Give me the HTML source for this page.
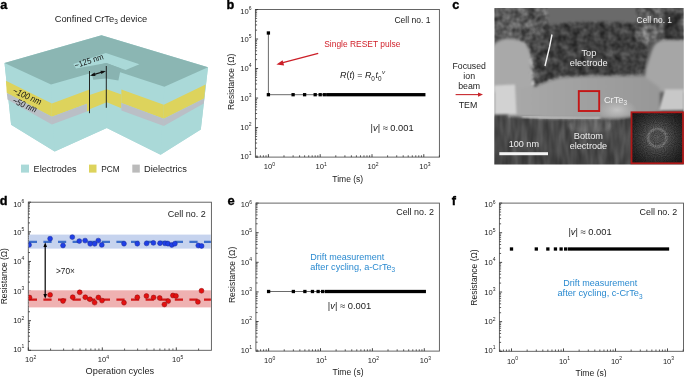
<!DOCTYPE html><html><head><meta charset="utf-8"><style>html,body{margin:0;padding:0;background:#fff;overflow:hidden}svg{display:block}text{font-family:"Liberation Sans",sans-serif}</style></head><body>
<svg width="685" height="377" viewBox="0 0 685 377">
<rect width="685" height="377" fill="#fff"/>
<text x="0.2" y="8.9" font-size="12.7" text-anchor="start" fill="#000" font-weight="bold" font-style="normal" stroke="#000" stroke-width="0.35">a</text>
<text x="226.5" y="8.9" font-size="12.7" text-anchor="start" fill="#000" font-weight="bold" font-style="normal" stroke="#000" stroke-width="0.35">b</text>
<text x="452.2" y="9.0" font-size="12.7" text-anchor="start" fill="#000" font-weight="bold" font-style="normal" stroke="#000" stroke-width="0.35">c</text>
<text x="-0.3" y="204.8" font-size="12.7" text-anchor="start" fill="#000" font-weight="bold" font-style="normal" stroke="#000" stroke-width="0.35">d</text>
<text x="227.4" y="205.0" font-size="12.9" text-anchor="start" fill="#000" font-weight="bold" font-style="normal" stroke="#000" stroke-width="0.35">e</text>
<text x="451.7" y="205.0" font-size="12.7" text-anchor="start" fill="#000" font-weight="bold" font-style="normal" stroke="#000" stroke-width="0.35">f</text>
<text x="54.7" y="22.3" font-size="9.3" text-anchor="start" fill="#222" font-weight="normal" font-style="normal" >Confined CrTe<tspan font-size="6.5" dy="2">3</tspan><tspan dy="-2"> device</tspan></text>
<polygon points="4.5,63.0 101.5,35.2 208.0,67.2 200.8,129.5 160.6,154.8 106.8,127.9 54.7,151.5 11.1,124.7" fill="#aad9d8" />
<polygon points="4.5,63.0 51.0,84.4 54.7,151.5 11.1,124.7" fill="#aad9d8" />
<polygon points="51.0,84.4 106.8,67.8 106.8,127.9 54.7,151.5" fill="#aad9d8" />
<polygon points="106.8,67.8 164.4,86.8 160.6,154.8 106.8,127.9" fill="#aad9d8" />
<polygon points="164.4,86.8 208.0,67.2 200.8,129.5 160.6,154.8" fill="#aad9d8" />
<polygon points="5.9,80.8 51.9,103.5 51.9,116.8 6.8,92.9" fill="#ddd35c" />
<polygon points="6.8,92.9 51.9,116.8 51.9,124.5 7.5,99.4" fill="#babfc6" />
<polygon points="51.9,103.5 89.5,89.6 89.5,110.6 86.9,111.5 86.9,103.8 51.9,116.8" fill="#ddd35c" />
<polygon points="51.9,116.8 86.9,103.8 86.9,111.5 51.9,124.5" fill="#babfc6" />
<polygon points="89.5,95.1 106.8,89.2 121.4,94.6 121.4,108.3 106.8,102.2 89.5,109.2" fill="#ddd35c" />
<polygon points="121.4,89.4 163.8,104.8 163.8,118.8 121.4,103.1" fill="#ddd35c" />
<polygon points="121.4,103.1 163.8,118.8 163.8,126.1 121.4,110.4" fill="#babfc6" />
<polygon points="163.8,104.8 205.5,84.6 204.2,98.4 163.8,118.8" fill="#ddd35c" />
<polygon points="163.8,118.8 204.2,98.4 203.7,103.5 163.8,126.1" fill="#babfc6" />
<polygon points="4.5,63.0 101.5,35.2 208.0,67.2 164.4,86.8 121.0,72.4 106.8,67.8 89.5,73.4 51.0,84.4" fill="#8bb6b3" />
<polygon points="73.3,63.9 105.8,53.0 139.4,64.3 125.6,70.0 106.3,62.9 76.0,68.6" fill="#aad9d8" />
<polygon points="89.8,67.2 106.3,62.9 120.8,68.6 118.4,80.4 106.3,78.5 93.3,79.8" fill="#89b3b1" />
<line x1="89.5" y1="71" x2="89.5" y2="113.2" stroke="#111" stroke-width="0.9"/>
<line x1="106.3" y1="66" x2="106.3" y2="107.8" stroke="#111" stroke-width="0.9"/>
<line x1="92" y1="75.1" x2="104" y2="71.5" stroke="#111" stroke-width="1.2"/>
<polygon points="89.9,75.8 94.6,72.6 95.5,75.9" fill="#111"/>
<polygon points="106,71.1 100.4,70.8 101.4,74.1" fill="#111"/>
<text x="75.6" y="68.4" font-size="8.4" text-anchor="start" fill="#111" font-weight="normal" font-style="normal" textLength="30" lengthAdjust="spacingAndGlyphs" transform="rotate(-18.5 75.6 68.4)">~125 nm</text>
<text x="12.0" y="93.0" font-size="9" text-anchor="start" fill="#111" font-weight="normal" font-style="italic" textLength="30.5" lengthAdjust="spacingAndGlyphs" transform="rotate(23 12 93)">~100 nm</text>
<text x="11.8" y="102.8" font-size="9" text-anchor="start" fill="#111" font-weight="normal" font-style="italic" textLength="25.5" lengthAdjust="spacingAndGlyphs" transform="rotate(23 11.8 102.8)">~50 nm</text>
<rect x="21" y="164.6" width="8" height="8" fill="#aad9d8"/>
<text x="33.6" y="172.4" font-size="9.2" text-anchor="start" fill="#222" font-weight="normal" font-style="normal" textLength="42.9" lengthAdjust="spacingAndGlyphs" >Electrodes</text>
<rect x="89" y="164.6" width="7.5" height="8" fill="#ddd35c"/>
<text x="101.3" y="172.4" font-size="9.2" text-anchor="start" fill="#222" font-weight="normal" font-style="normal" textLength="18.4" lengthAdjust="spacingAndGlyphs" >PCM</text>
<rect x="132.3" y="164.6" width="7.5" height="8" fill="#bbbbbb"/>
<text x="144" y="172.4" font-size="9.2" text-anchor="start" fill="#222" font-weight="normal" font-style="normal" textLength="42.9" lengthAdjust="spacingAndGlyphs" >Dielectrics</text>
<rect x="255.4" y="9.5" width="183.99999999999997" height="147.6" fill="none" stroke="#555" stroke-width="0.9"/>
<line x1="255.4" y1="9.50" x2="258.1" y2="9.50" stroke="#333" stroke-width="0.9"/>
<line x1="255.4" y1="30.13" x2="257.1" y2="30.13" stroke="#333" stroke-width="0.8"/>
<line x1="255.4" y1="24.94" x2="257.1" y2="24.94" stroke="#333" stroke-width="0.8"/>
<line x1="255.4" y1="21.25" x2="257.1" y2="21.25" stroke="#333" stroke-width="0.8"/>
<line x1="255.4" y1="18.39" x2="257.1" y2="18.39" stroke="#333" stroke-width="0.8"/>
<line x1="255.4" y1="16.05" x2="257.1" y2="16.05" stroke="#333" stroke-width="0.8"/>
<line x1="255.4" y1="14.07" x2="257.1" y2="14.07" stroke="#333" stroke-width="0.8"/>
<line x1="255.4" y1="12.36" x2="257.1" y2="12.36" stroke="#333" stroke-width="0.8"/>
<line x1="255.4" y1="10.85" x2="257.1" y2="10.85" stroke="#333" stroke-width="0.8"/>
<line x1="255.4" y1="39.02" x2="258.1" y2="39.02" stroke="#333" stroke-width="0.9"/>
<line x1="255.4" y1="59.65" x2="257.1" y2="59.65" stroke="#333" stroke-width="0.8"/>
<line x1="255.4" y1="54.46" x2="257.1" y2="54.46" stroke="#333" stroke-width="0.8"/>
<line x1="255.4" y1="50.77" x2="257.1" y2="50.77" stroke="#333" stroke-width="0.8"/>
<line x1="255.4" y1="47.91" x2="257.1" y2="47.91" stroke="#333" stroke-width="0.8"/>
<line x1="255.4" y1="45.57" x2="257.1" y2="45.57" stroke="#333" stroke-width="0.8"/>
<line x1="255.4" y1="43.59" x2="257.1" y2="43.59" stroke="#333" stroke-width="0.8"/>
<line x1="255.4" y1="41.88" x2="257.1" y2="41.88" stroke="#333" stroke-width="0.8"/>
<line x1="255.4" y1="40.37" x2="257.1" y2="40.37" stroke="#333" stroke-width="0.8"/>
<line x1="255.4" y1="68.54" x2="258.1" y2="68.54" stroke="#333" stroke-width="0.9"/>
<line x1="255.4" y1="89.17" x2="257.1" y2="89.17" stroke="#333" stroke-width="0.8"/>
<line x1="255.4" y1="83.98" x2="257.1" y2="83.98" stroke="#333" stroke-width="0.8"/>
<line x1="255.4" y1="80.29" x2="257.1" y2="80.29" stroke="#333" stroke-width="0.8"/>
<line x1="255.4" y1="77.43" x2="257.1" y2="77.43" stroke="#333" stroke-width="0.8"/>
<line x1="255.4" y1="75.09" x2="257.1" y2="75.09" stroke="#333" stroke-width="0.8"/>
<line x1="255.4" y1="73.11" x2="257.1" y2="73.11" stroke="#333" stroke-width="0.8"/>
<line x1="255.4" y1="71.40" x2="257.1" y2="71.40" stroke="#333" stroke-width="0.8"/>
<line x1="255.4" y1="69.89" x2="257.1" y2="69.89" stroke="#333" stroke-width="0.8"/>
<line x1="255.4" y1="98.06" x2="258.1" y2="98.06" stroke="#333" stroke-width="0.9"/>
<line x1="255.4" y1="118.69" x2="257.1" y2="118.69" stroke="#333" stroke-width="0.8"/>
<line x1="255.4" y1="113.50" x2="257.1" y2="113.50" stroke="#333" stroke-width="0.8"/>
<line x1="255.4" y1="109.81" x2="257.1" y2="109.81" stroke="#333" stroke-width="0.8"/>
<line x1="255.4" y1="106.95" x2="257.1" y2="106.95" stroke="#333" stroke-width="0.8"/>
<line x1="255.4" y1="104.61" x2="257.1" y2="104.61" stroke="#333" stroke-width="0.8"/>
<line x1="255.4" y1="102.63" x2="257.1" y2="102.63" stroke="#333" stroke-width="0.8"/>
<line x1="255.4" y1="100.92" x2="257.1" y2="100.92" stroke="#333" stroke-width="0.8"/>
<line x1="255.4" y1="99.41" x2="257.1" y2="99.41" stroke="#333" stroke-width="0.8"/>
<line x1="255.4" y1="127.58" x2="258.1" y2="127.58" stroke="#333" stroke-width="0.9"/>
<line x1="255.4" y1="148.21" x2="257.1" y2="148.21" stroke="#333" stroke-width="0.8"/>
<line x1="255.4" y1="143.02" x2="257.1" y2="143.02" stroke="#333" stroke-width="0.8"/>
<line x1="255.4" y1="139.33" x2="257.1" y2="139.33" stroke="#333" stroke-width="0.8"/>
<line x1="255.4" y1="136.47" x2="257.1" y2="136.47" stroke="#333" stroke-width="0.8"/>
<line x1="255.4" y1="134.13" x2="257.1" y2="134.13" stroke="#333" stroke-width="0.8"/>
<line x1="255.4" y1="132.15" x2="257.1" y2="132.15" stroke="#333" stroke-width="0.8"/>
<line x1="255.4" y1="130.44" x2="257.1" y2="130.44" stroke="#333" stroke-width="0.8"/>
<line x1="255.4" y1="128.93" x2="257.1" y2="128.93" stroke="#333" stroke-width="0.8"/>
<line x1="255.4" y1="157.10" x2="258.1" y2="157.10" stroke="#333" stroke-width="0.9"/>
<text x="251.5" y="158.79999999999998" font-size="7.6" text-anchor="end" fill="#222">10<tspan font-size="5.02" dy="-3.80">1</tspan></text>
<text x="251.5" y="130.28" font-size="7.6" text-anchor="end" fill="#222">10<tspan font-size="5.02" dy="-3.80">2</tspan></text>
<text x="251.5" y="100.76" font-size="7.6" text-anchor="end" fill="#222">10<tspan font-size="5.02" dy="-3.80">3</tspan></text>
<text x="251.5" y="71.24" font-size="7.6" text-anchor="end" fill="#222">10<tspan font-size="5.02" dy="-3.80">4</tspan></text>
<text x="251.5" y="41.72" font-size="7.6" text-anchor="end" fill="#222">10<tspan font-size="5.02" dy="-3.80">5</tspan></text>
<text x="251.5" y="13.799999999999999" font-size="7.6" text-anchor="end" fill="#222">10<tspan font-size="5.02" dy="-3.80">6</tspan></text>
<line x1="256.91" y1="157.1" x2="256.91" y2="155.29999999999998" stroke="#333" stroke-width="0.8"/>
<line x1="260.38" y1="157.1" x2="260.38" y2="155.29999999999998" stroke="#333" stroke-width="0.8"/>
<line x1="263.38" y1="157.1" x2="263.38" y2="155.29999999999998" stroke="#333" stroke-width="0.8"/>
<line x1="266.03" y1="157.1" x2="266.03" y2="155.29999999999998" stroke="#333" stroke-width="0.8"/>
<line x1="268.40" y1="157.1" x2="268.40" y2="154.2" stroke="#333" stroke-width="0.9"/>
<line x1="283.99" y1="157.1" x2="283.99" y2="155.29999999999998" stroke="#333" stroke-width="0.8"/>
<line x1="293.11" y1="157.1" x2="293.11" y2="155.29999999999998" stroke="#333" stroke-width="0.8"/>
<line x1="299.59" y1="157.1" x2="299.59" y2="155.29999999999998" stroke="#333" stroke-width="0.8"/>
<line x1="304.61" y1="157.1" x2="304.61" y2="155.29999999999998" stroke="#333" stroke-width="0.8"/>
<line x1="308.71" y1="157.1" x2="308.71" y2="155.29999999999998" stroke="#333" stroke-width="0.8"/>
<line x1="312.18" y1="157.1" x2="312.18" y2="155.29999999999998" stroke="#333" stroke-width="0.8"/>
<line x1="315.18" y1="157.1" x2="315.18" y2="155.29999999999998" stroke="#333" stroke-width="0.8"/>
<line x1="317.83" y1="157.1" x2="317.83" y2="155.29999999999998" stroke="#333" stroke-width="0.8"/>
<line x1="320.20" y1="157.1" x2="320.20" y2="154.2" stroke="#333" stroke-width="0.9"/>
<line x1="335.79" y1="157.1" x2="335.79" y2="155.29999999999998" stroke="#333" stroke-width="0.8"/>
<line x1="344.91" y1="157.1" x2="344.91" y2="155.29999999999998" stroke="#333" stroke-width="0.8"/>
<line x1="351.39" y1="157.1" x2="351.39" y2="155.29999999999998" stroke="#333" stroke-width="0.8"/>
<line x1="356.41" y1="157.1" x2="356.41" y2="155.29999999999998" stroke="#333" stroke-width="0.8"/>
<line x1="360.51" y1="157.1" x2="360.51" y2="155.29999999999998" stroke="#333" stroke-width="0.8"/>
<line x1="363.98" y1="157.1" x2="363.98" y2="155.29999999999998" stroke="#333" stroke-width="0.8"/>
<line x1="366.98" y1="157.1" x2="366.98" y2="155.29999999999998" stroke="#333" stroke-width="0.8"/>
<line x1="369.63" y1="157.1" x2="369.63" y2="155.29999999999998" stroke="#333" stroke-width="0.8"/>
<line x1="372.00" y1="157.1" x2="372.00" y2="154.2" stroke="#333" stroke-width="0.9"/>
<line x1="387.59" y1="157.1" x2="387.59" y2="155.29999999999998" stroke="#333" stroke-width="0.8"/>
<line x1="396.71" y1="157.1" x2="396.71" y2="155.29999999999998" stroke="#333" stroke-width="0.8"/>
<line x1="403.19" y1="157.1" x2="403.19" y2="155.29999999999998" stroke="#333" stroke-width="0.8"/>
<line x1="408.21" y1="157.1" x2="408.21" y2="155.29999999999998" stroke="#333" stroke-width="0.8"/>
<line x1="412.31" y1="157.1" x2="412.31" y2="155.29999999999998" stroke="#333" stroke-width="0.8"/>
<line x1="415.78" y1="157.1" x2="415.78" y2="155.29999999999998" stroke="#333" stroke-width="0.8"/>
<line x1="418.78" y1="157.1" x2="418.78" y2="155.29999999999998" stroke="#333" stroke-width="0.8"/>
<line x1="421.43" y1="157.1" x2="421.43" y2="155.29999999999998" stroke="#333" stroke-width="0.8"/>
<line x1="423.80" y1="157.1" x2="423.80" y2="154.2" stroke="#333" stroke-width="0.9"/>
<line x1="439.39" y1="157.1" x2="439.39" y2="155.29999999999998" stroke="#333" stroke-width="0.8"/>
<text x="269.4" y="169.4" font-size="7.6" text-anchor="middle" fill="#222">10<tspan font-size="5.02" dy="-3.80">0</tspan></text>
<text x="321.2" y="169.4" font-size="7.6" text-anchor="middle" fill="#222">10<tspan font-size="5.02" dy="-3.80">1</tspan></text>
<text x="373.0" y="169.4" font-size="7.6" text-anchor="middle" fill="#222">10<tspan font-size="5.02" dy="-3.80">2</tspan></text>
<text x="424.79999999999995" y="169.4" font-size="7.6" text-anchor="middle" fill="#222">10<tspan font-size="5.02" dy="-3.80">3</tspan></text>
<line x1="268.40" y1="32.99" x2="268.40" y2="94.70" stroke="#444" stroke-width="0.8"/>
<line x1="268.40" y1="94.70" x2="423.80" y2="94.70" stroke="#444" stroke-width="0.8"/>
<rect x="326.12" y="93.05" width="99.33" height="3.3" fill="#000"/>
<rect x="266.75" y="93.05" width="3.3" height="3.3" fill="#000"/>
<rect x="291.46" y="93.05" width="3.3" height="3.3" fill="#000"/>
<rect x="302.96" y="93.05" width="3.3" height="3.3" fill="#000"/>
<rect x="313.53" y="93.05" width="3.3" height="3.3" fill="#000"/>
<rect x="318.55" y="93.05" width="3.3" height="3.3" fill="#000"/>
<rect x="322.65" y="93.05" width="3.3" height="3.3" fill="#000"/>
<rect x="266.75" y="31.34" width="3.3" height="3.3" fill="#000"/>
<text x="394.4" y="23.0" font-size="9.2" text-anchor="start" fill="#1a1a1a" font-weight="normal" font-style="normal" textLength="36.2" lengthAdjust="spacingAndGlyphs" >Cell no. 1</text>
<text x="324.2" y="47.1" font-size="8.8" text-anchor="start" fill="#d01e28" font-weight="normal" font-style="normal" textLength="76.3" lengthAdjust="spacingAndGlyphs" >Single RESET pulse</text>
<line x1="318.2" y1="53.4" x2="281" y2="63.2" stroke="#cc1f28" stroke-width="1.3"/>
<polygon points="276.4,64.5 282.6,60.2 284.1,65.5" fill="#cc1f28"/>
<text x="340" y="78.0" font-size="8.9" text-anchor="start" fill="#1a1a1a" font-weight="normal" font-style="normal" ><tspan font-style="italic">R</tspan>(<tspan font-style="italic">t</tspan>) = <tspan font-style="italic">R</tspan><tspan font-size="6.4" dy="2.5">0</tspan><tspan font-style="italic" dy="-2.5" dx="0.7">t</tspan><tspan font-size="6.4" dy="2.5">0</tspan><tspan font-size="6.2" font-style="italic" dy="-6.3" dx="0.3">v</tspan></text>
<text x="370.6" y="130.6" font-size="9.6" text-anchor="start" fill="#222" font-weight="normal" font-style="normal" textLength="43" lengthAdjust="spacingAndGlyphs" >|<tspan font-style="italic">v</tspan>| ≈ 0.001</text>
<text x="332.3" y="182.2" font-size="9.2" text-anchor="start" fill="#1a1a1a" font-weight="normal" font-style="normal" textLength="30.9" lengthAdjust="spacingAndGlyphs" >Time (s)</text>
<text x="233.9" y="81.8" font-size="8.4" text-anchor="middle" fill="#222" font-weight="normal" font-style="normal" textLength="56.3" lengthAdjust="spacingAndGlyphs" transform="rotate(-90 233.9 81.8)">Resistance (Ω)</text>
<rect x="28.3" y="202.2" width="183.1" height="148.10000000000002" fill="none" stroke="#555" stroke-width="0.9"/>
<line x1="28.3" y1="202.20" x2="31.0" y2="202.20" stroke="#333" stroke-width="0.9"/>
<line x1="28.3" y1="222.90" x2="30.0" y2="222.90" stroke="#333" stroke-width="0.8"/>
<line x1="28.3" y1="217.69" x2="30.0" y2="217.69" stroke="#333" stroke-width="0.8"/>
<line x1="28.3" y1="213.99" x2="30.0" y2="213.99" stroke="#333" stroke-width="0.8"/>
<line x1="28.3" y1="211.12" x2="30.0" y2="211.12" stroke="#333" stroke-width="0.8"/>
<line x1="28.3" y1="208.77" x2="30.0" y2="208.77" stroke="#333" stroke-width="0.8"/>
<line x1="28.3" y1="206.79" x2="30.0" y2="206.79" stroke="#333" stroke-width="0.8"/>
<line x1="28.3" y1="205.07" x2="30.0" y2="205.07" stroke="#333" stroke-width="0.8"/>
<line x1="28.3" y1="203.56" x2="30.0" y2="203.56" stroke="#333" stroke-width="0.8"/>
<line x1="28.3" y1="231.82" x2="31.0" y2="231.82" stroke="#333" stroke-width="0.9"/>
<line x1="28.3" y1="252.52" x2="30.0" y2="252.52" stroke="#333" stroke-width="0.8"/>
<line x1="28.3" y1="247.31" x2="30.0" y2="247.31" stroke="#333" stroke-width="0.8"/>
<line x1="28.3" y1="243.61" x2="30.0" y2="243.61" stroke="#333" stroke-width="0.8"/>
<line x1="28.3" y1="240.74" x2="30.0" y2="240.74" stroke="#333" stroke-width="0.8"/>
<line x1="28.3" y1="238.39" x2="30.0" y2="238.39" stroke="#333" stroke-width="0.8"/>
<line x1="28.3" y1="236.41" x2="30.0" y2="236.41" stroke="#333" stroke-width="0.8"/>
<line x1="28.3" y1="234.69" x2="30.0" y2="234.69" stroke="#333" stroke-width="0.8"/>
<line x1="28.3" y1="233.18" x2="30.0" y2="233.18" stroke="#333" stroke-width="0.8"/>
<line x1="28.3" y1="261.44" x2="31.0" y2="261.44" stroke="#333" stroke-width="0.9"/>
<line x1="28.3" y1="282.14" x2="30.0" y2="282.14" stroke="#333" stroke-width="0.8"/>
<line x1="28.3" y1="276.93" x2="30.0" y2="276.93" stroke="#333" stroke-width="0.8"/>
<line x1="28.3" y1="273.23" x2="30.0" y2="273.23" stroke="#333" stroke-width="0.8"/>
<line x1="28.3" y1="270.36" x2="30.0" y2="270.36" stroke="#333" stroke-width="0.8"/>
<line x1="28.3" y1="268.01" x2="30.0" y2="268.01" stroke="#333" stroke-width="0.8"/>
<line x1="28.3" y1="266.03" x2="30.0" y2="266.03" stroke="#333" stroke-width="0.8"/>
<line x1="28.3" y1="264.31" x2="30.0" y2="264.31" stroke="#333" stroke-width="0.8"/>
<line x1="28.3" y1="262.80" x2="30.0" y2="262.80" stroke="#333" stroke-width="0.8"/>
<line x1="28.3" y1="291.06" x2="31.0" y2="291.06" stroke="#333" stroke-width="0.9"/>
<line x1="28.3" y1="311.76" x2="30.0" y2="311.76" stroke="#333" stroke-width="0.8"/>
<line x1="28.3" y1="306.55" x2="30.0" y2="306.55" stroke="#333" stroke-width="0.8"/>
<line x1="28.3" y1="302.85" x2="30.0" y2="302.85" stroke="#333" stroke-width="0.8"/>
<line x1="28.3" y1="299.98" x2="30.0" y2="299.98" stroke="#333" stroke-width="0.8"/>
<line x1="28.3" y1="297.63" x2="30.0" y2="297.63" stroke="#333" stroke-width="0.8"/>
<line x1="28.3" y1="295.65" x2="30.0" y2="295.65" stroke="#333" stroke-width="0.8"/>
<line x1="28.3" y1="293.93" x2="30.0" y2="293.93" stroke="#333" stroke-width="0.8"/>
<line x1="28.3" y1="292.42" x2="30.0" y2="292.42" stroke="#333" stroke-width="0.8"/>
<line x1="28.3" y1="320.68" x2="31.0" y2="320.68" stroke="#333" stroke-width="0.9"/>
<line x1="28.3" y1="341.38" x2="30.0" y2="341.38" stroke="#333" stroke-width="0.8"/>
<line x1="28.3" y1="336.17" x2="30.0" y2="336.17" stroke="#333" stroke-width="0.8"/>
<line x1="28.3" y1="332.47" x2="30.0" y2="332.47" stroke="#333" stroke-width="0.8"/>
<line x1="28.3" y1="329.60" x2="30.0" y2="329.60" stroke="#333" stroke-width="0.8"/>
<line x1="28.3" y1="327.25" x2="30.0" y2="327.25" stroke="#333" stroke-width="0.8"/>
<line x1="28.3" y1="325.27" x2="30.0" y2="325.27" stroke="#333" stroke-width="0.8"/>
<line x1="28.3" y1="323.55" x2="30.0" y2="323.55" stroke="#333" stroke-width="0.8"/>
<line x1="28.3" y1="322.04" x2="30.0" y2="322.04" stroke="#333" stroke-width="0.8"/>
<line x1="28.3" y1="350.30" x2="31.0" y2="350.30" stroke="#333" stroke-width="0.9"/>
<text x="24.400000000000002" y="352.0" font-size="7.6" text-anchor="end" fill="#222">10<tspan font-size="5.02" dy="-3.80">1</tspan></text>
<text x="24.400000000000002" y="323.38" font-size="7.6" text-anchor="end" fill="#222">10<tspan font-size="5.02" dy="-3.80">2</tspan></text>
<text x="24.400000000000002" y="293.76" font-size="7.6" text-anchor="end" fill="#222">10<tspan font-size="5.02" dy="-3.80">3</tspan></text>
<text x="24.400000000000002" y="264.14" font-size="7.6" text-anchor="end" fill="#222">10<tspan font-size="5.02" dy="-3.80">4</tspan></text>
<text x="24.400000000000002" y="234.51999999999998" font-size="7.6" text-anchor="end" fill="#222">10<tspan font-size="5.02" dy="-3.80">5</tspan></text>
<text x="24.400000000000002" y="206.49999999999997" font-size="7.6" text-anchor="end" fill="#222">10<tspan font-size="5.02" dy="-3.80">6</tspan></text>
<line x1="28.30" y1="350.3" x2="28.30" y2="347.40000000000003" stroke="#333" stroke-width="0.9"/>
<line x1="50.58" y1="350.3" x2="50.58" y2="348.5" stroke="#333" stroke-width="0.8"/>
<line x1="63.61" y1="350.3" x2="63.61" y2="348.5" stroke="#333" stroke-width="0.8"/>
<line x1="72.85" y1="350.3" x2="72.85" y2="348.5" stroke="#333" stroke-width="0.8"/>
<line x1="80.02" y1="350.3" x2="80.02" y2="348.5" stroke="#333" stroke-width="0.8"/>
<line x1="85.88" y1="350.3" x2="85.88" y2="348.5" stroke="#333" stroke-width="0.8"/>
<line x1="90.84" y1="350.3" x2="90.84" y2="348.5" stroke="#333" stroke-width="0.8"/>
<line x1="95.13" y1="350.3" x2="95.13" y2="348.5" stroke="#333" stroke-width="0.8"/>
<line x1="98.91" y1="350.3" x2="98.91" y2="348.5" stroke="#333" stroke-width="0.8"/>
<line x1="102.30" y1="350.3" x2="102.30" y2="347.40000000000003" stroke="#333" stroke-width="0.9"/>
<line x1="124.58" y1="350.3" x2="124.58" y2="348.5" stroke="#333" stroke-width="0.8"/>
<line x1="137.61" y1="350.3" x2="137.61" y2="348.5" stroke="#333" stroke-width="0.8"/>
<line x1="146.85" y1="350.3" x2="146.85" y2="348.5" stroke="#333" stroke-width="0.8"/>
<line x1="154.02" y1="350.3" x2="154.02" y2="348.5" stroke="#333" stroke-width="0.8"/>
<line x1="159.88" y1="350.3" x2="159.88" y2="348.5" stroke="#333" stroke-width="0.8"/>
<line x1="164.84" y1="350.3" x2="164.84" y2="348.5" stroke="#333" stroke-width="0.8"/>
<line x1="169.13" y1="350.3" x2="169.13" y2="348.5" stroke="#333" stroke-width="0.8"/>
<line x1="172.91" y1="350.3" x2="172.91" y2="348.5" stroke="#333" stroke-width="0.8"/>
<line x1="176.30" y1="350.3" x2="176.30" y2="347.40000000000003" stroke="#333" stroke-width="0.9"/>
<line x1="198.58" y1="350.3" x2="198.58" y2="348.5" stroke="#333" stroke-width="0.8"/>
<text x="30.6" y="362.3" font-size="7.6" text-anchor="middle" fill="#222">10<tspan font-size="5.02" dy="-3.80">2</tspan></text>
<text x="103.3" y="362.3" font-size="7.6" text-anchor="middle" fill="#222">10<tspan font-size="5.02" dy="-3.80">4</tspan></text>
<text x="177.7" y="362.3" font-size="7.6" text-anchor="middle" fill="#222">10<tspan font-size="5.02" dy="-3.80">5</tspan></text>
<rect x="28.8" y="234.6" width="182.1" height="14" fill="#c6d3ee"/>
<rect x="28.8" y="290.3" width="182.1" height="17.1" fill="#efb1b1"/>
<clipPath id="dclip"><rect x="28.7" y="202.2" width="182.29999999999998" height="148.10000000000002"/></clipPath><g clip-path="url(#dclip)">
<line x1="28.8" y1="241.9" x2="210.9" y2="241.9" stroke="#3d6fca" stroke-width="2.1" stroke-dasharray="8.2 6.4"/>
<line x1="28.8" y1="299.7" x2="210.9" y2="299.7" stroke="#d21818" stroke-width="2.2" stroke-dasharray="8.2 6.4"/>
<circle cx="29.1" cy="244.9" r="2.45" fill="#1f3fe6" stroke="#1a2a9a" stroke-width="0.5"/>
<circle cx="50.1" cy="238.7" r="2.45" fill="#1f3fe6" stroke="#1a2a9a" stroke-width="0.5"/>
<circle cx="63" cy="245.5" r="2.45" fill="#1f3fe6" stroke="#1a2a9a" stroke-width="0.5"/>
<circle cx="72.3" cy="237.1" r="2.45" fill="#1f3fe6" stroke="#1a2a9a" stroke-width="0.5"/>
<circle cx="79.3" cy="241.1" r="2.45" fill="#1f3fe6" stroke="#1a2a9a" stroke-width="0.5"/>
<circle cx="85.1" cy="240.6" r="2.45" fill="#1f3fe6" stroke="#1a2a9a" stroke-width="0.5"/>
<circle cx="90.2" cy="243.8" r="2.45" fill="#1f3fe6" stroke="#1a2a9a" stroke-width="0.5"/>
<circle cx="94.7" cy="243.8" r="2.45" fill="#1f3fe6" stroke="#1a2a9a" stroke-width="0.5"/>
<circle cx="98.3" cy="240.6" r="2.45" fill="#1f3fe6" stroke="#1a2a9a" stroke-width="0.5"/>
<circle cx="101.8" cy="244.9" r="2.45" fill="#1f3fe6" stroke="#1a2a9a" stroke-width="0.5"/>
<circle cx="124" cy="243.7" r="2.45" fill="#1f3fe6" stroke="#1a2a9a" stroke-width="0.5"/>
<circle cx="137.3" cy="243.7" r="2.45" fill="#1f3fe6" stroke="#1a2a9a" stroke-width="0.5"/>
<circle cx="146.6" cy="243.4" r="2.45" fill="#1f3fe6" stroke="#1a2a9a" stroke-width="0.5"/>
<circle cx="153.4" cy="242.9" r="2.45" fill="#1f3fe6" stroke="#1a2a9a" stroke-width="0.5"/>
<circle cx="160" cy="243.2" r="2.45" fill="#1f3fe6" stroke="#1a2a9a" stroke-width="0.5"/>
<circle cx="165" cy="243.4" r="2.45" fill="#1f3fe6" stroke="#1a2a9a" stroke-width="0.5"/>
<circle cx="168" cy="243.7" r="2.45" fill="#1f3fe6" stroke="#1a2a9a" stroke-width="0.5"/>
<circle cx="171.8" cy="245" r="2.45" fill="#1f3fe6" stroke="#1a2a9a" stroke-width="0.5"/>
<circle cx="174.9" cy="243.7" r="2.45" fill="#1f3fe6" stroke="#1a2a9a" stroke-width="0.5"/>
<circle cx="198.3" cy="245.5" r="2.45" fill="#1f3fe6" stroke="#1a2a9a" stroke-width="0.5"/>
<circle cx="201.6" cy="246" r="2.45" fill="#1f3fe6" stroke="#1a2a9a" stroke-width="0.5"/>
<circle cx="29.5" cy="297.5" r="2.45" fill="#e41010" stroke="#8a0a0a" stroke-width="0.5"/>
<circle cx="50.1" cy="294.9" r="2.45" fill="#e41010" stroke="#8a0a0a" stroke-width="0.5"/>
<circle cx="63" cy="301" r="2.45" fill="#e41010" stroke="#8a0a0a" stroke-width="0.5"/>
<circle cx="72.7" cy="297.2" r="2.45" fill="#e41010" stroke="#8a0a0a" stroke-width="0.5"/>
<circle cx="79.7" cy="292.3" r="2.45" fill="#e41010" stroke="#8a0a0a" stroke-width="0.5"/>
<circle cx="85.3" cy="297.2" r="2.45" fill="#e41010" stroke="#8a0a0a" stroke-width="0.5"/>
<circle cx="90" cy="299.3" r="2.45" fill="#e41010" stroke="#8a0a0a" stroke-width="0.5"/>
<circle cx="94.6" cy="302.6" r="2.45" fill="#e41010" stroke="#8a0a0a" stroke-width="0.5"/>
<circle cx="98.4" cy="297.5" r="2.45" fill="#e41010" stroke="#8a0a0a" stroke-width="0.5"/>
<circle cx="102" cy="300.6" r="2.45" fill="#e41010" stroke="#8a0a0a" stroke-width="0.5"/>
<circle cx="124" cy="302.7" r="2.45" fill="#e41010" stroke="#8a0a0a" stroke-width="0.5"/>
<circle cx="137.3" cy="297.3" r="2.45" fill="#e41010" stroke="#8a0a0a" stroke-width="0.5"/>
<circle cx="146.4" cy="296" r="2.45" fill="#e41010" stroke="#8a0a0a" stroke-width="0.5"/>
<circle cx="153.6" cy="297.5" r="2.45" fill="#e41010" stroke="#8a0a0a" stroke-width="0.5"/>
<circle cx="159.7" cy="298" r="2.45" fill="#e41010" stroke="#8a0a0a" stroke-width="0.5"/>
<circle cx="164.4" cy="304.5" r="2.45" fill="#e41010" stroke="#8a0a0a" stroke-width="0.5"/>
<circle cx="168.2" cy="301.1" r="2.45" fill="#e41010" stroke="#8a0a0a" stroke-width="0.5"/>
<circle cx="172.9" cy="295.5" r="2.45" fill="#e41010" stroke="#8a0a0a" stroke-width="0.5"/>
<circle cx="176" cy="296" r="2.45" fill="#e41010" stroke="#8a0a0a" stroke-width="0.5"/>
<circle cx="197.9" cy="301.9" r="2.45" fill="#e41010" stroke="#8a0a0a" stroke-width="0.5"/>
<circle cx="201.5" cy="290.8" r="2.45" fill="#e41010" stroke="#8a0a0a" stroke-width="0.5"/>
</g>
<line x1="45.2" y1="245" x2="45.2" y2="296.5" stroke="#000" stroke-width="1.2"/>
<polygon points="45.2,242.3 43.4,247 47,247" fill="#000"/>
<polygon points="45.2,298.8 43.4,294 47,294" fill="#000"/>
<text x="56.0" y="274.0" font-size="9.2" text-anchor="start" fill="#1a1a1a" font-weight="normal" font-style="normal" textLength="18.9" lengthAdjust="spacingAndGlyphs" >&gt;70×</text>
<text x="167.8" y="217.0" font-size="9.2" text-anchor="start" fill="#1a1a1a" font-weight="normal" font-style="normal" textLength="38.0" lengthAdjust="spacingAndGlyphs" >Cell no. 2</text>
<text x="85.6" y="374.4" font-size="8.8" text-anchor="start" fill="#222" font-weight="normal" font-style="normal" textLength="68.6" lengthAdjust="spacingAndGlyphs" >Operation cycles</text>
<text x="7.3" y="276.2" font-size="8.4" text-anchor="middle" fill="#222" font-weight="normal" font-style="normal" textLength="56.3" lengthAdjust="spacingAndGlyphs" transform="rotate(-90 7.3 276.2)">Resistance (Ω)</text>
<rect x="255.9" y="203.1" width="183.49999999999997" height="148.00000000000003" fill="none" stroke="#555" stroke-width="0.9"/>
<line x1="255.9" y1="203.10" x2="258.6" y2="203.10" stroke="#333" stroke-width="0.9"/>
<line x1="255.9" y1="223.79" x2="257.6" y2="223.79" stroke="#333" stroke-width="0.8"/>
<line x1="255.9" y1="218.58" x2="257.6" y2="218.58" stroke="#333" stroke-width="0.8"/>
<line x1="255.9" y1="214.88" x2="257.6" y2="214.88" stroke="#333" stroke-width="0.8"/>
<line x1="255.9" y1="212.01" x2="257.6" y2="212.01" stroke="#333" stroke-width="0.8"/>
<line x1="255.9" y1="209.67" x2="257.6" y2="209.67" stroke="#333" stroke-width="0.8"/>
<line x1="255.9" y1="207.69" x2="257.6" y2="207.69" stroke="#333" stroke-width="0.8"/>
<line x1="255.9" y1="205.97" x2="257.6" y2="205.97" stroke="#333" stroke-width="0.8"/>
<line x1="255.9" y1="204.45" x2="257.6" y2="204.45" stroke="#333" stroke-width="0.8"/>
<line x1="255.9" y1="232.70" x2="258.6" y2="232.70" stroke="#333" stroke-width="0.9"/>
<line x1="255.9" y1="253.39" x2="257.6" y2="253.39" stroke="#333" stroke-width="0.8"/>
<line x1="255.9" y1="248.18" x2="257.6" y2="248.18" stroke="#333" stroke-width="0.8"/>
<line x1="255.9" y1="244.48" x2="257.6" y2="244.48" stroke="#333" stroke-width="0.8"/>
<line x1="255.9" y1="241.61" x2="257.6" y2="241.61" stroke="#333" stroke-width="0.8"/>
<line x1="255.9" y1="239.27" x2="257.6" y2="239.27" stroke="#333" stroke-width="0.8"/>
<line x1="255.9" y1="237.29" x2="257.6" y2="237.29" stroke="#333" stroke-width="0.8"/>
<line x1="255.9" y1="235.57" x2="257.6" y2="235.57" stroke="#333" stroke-width="0.8"/>
<line x1="255.9" y1="234.05" x2="257.6" y2="234.05" stroke="#333" stroke-width="0.8"/>
<line x1="255.9" y1="262.30" x2="258.6" y2="262.30" stroke="#333" stroke-width="0.9"/>
<line x1="255.9" y1="282.99" x2="257.6" y2="282.99" stroke="#333" stroke-width="0.8"/>
<line x1="255.9" y1="277.78" x2="257.6" y2="277.78" stroke="#333" stroke-width="0.8"/>
<line x1="255.9" y1="274.08" x2="257.6" y2="274.08" stroke="#333" stroke-width="0.8"/>
<line x1="255.9" y1="271.21" x2="257.6" y2="271.21" stroke="#333" stroke-width="0.8"/>
<line x1="255.9" y1="268.87" x2="257.6" y2="268.87" stroke="#333" stroke-width="0.8"/>
<line x1="255.9" y1="266.89" x2="257.6" y2="266.89" stroke="#333" stroke-width="0.8"/>
<line x1="255.9" y1="265.17" x2="257.6" y2="265.17" stroke="#333" stroke-width="0.8"/>
<line x1="255.9" y1="263.65" x2="257.6" y2="263.65" stroke="#333" stroke-width="0.8"/>
<line x1="255.9" y1="291.90" x2="258.6" y2="291.90" stroke="#333" stroke-width="0.9"/>
<line x1="255.9" y1="312.59" x2="257.6" y2="312.59" stroke="#333" stroke-width="0.8"/>
<line x1="255.9" y1="307.38" x2="257.6" y2="307.38" stroke="#333" stroke-width="0.8"/>
<line x1="255.9" y1="303.68" x2="257.6" y2="303.68" stroke="#333" stroke-width="0.8"/>
<line x1="255.9" y1="300.81" x2="257.6" y2="300.81" stroke="#333" stroke-width="0.8"/>
<line x1="255.9" y1="298.47" x2="257.6" y2="298.47" stroke="#333" stroke-width="0.8"/>
<line x1="255.9" y1="296.49" x2="257.6" y2="296.49" stroke="#333" stroke-width="0.8"/>
<line x1="255.9" y1="294.77" x2="257.6" y2="294.77" stroke="#333" stroke-width="0.8"/>
<line x1="255.9" y1="293.25" x2="257.6" y2="293.25" stroke="#333" stroke-width="0.8"/>
<line x1="255.9" y1="321.50" x2="258.6" y2="321.50" stroke="#333" stroke-width="0.9"/>
<line x1="255.9" y1="342.19" x2="257.6" y2="342.19" stroke="#333" stroke-width="0.8"/>
<line x1="255.9" y1="336.98" x2="257.6" y2="336.98" stroke="#333" stroke-width="0.8"/>
<line x1="255.9" y1="333.28" x2="257.6" y2="333.28" stroke="#333" stroke-width="0.8"/>
<line x1="255.9" y1="330.41" x2="257.6" y2="330.41" stroke="#333" stroke-width="0.8"/>
<line x1="255.9" y1="328.07" x2="257.6" y2="328.07" stroke="#333" stroke-width="0.8"/>
<line x1="255.9" y1="326.09" x2="257.6" y2="326.09" stroke="#333" stroke-width="0.8"/>
<line x1="255.9" y1="324.37" x2="257.6" y2="324.37" stroke="#333" stroke-width="0.8"/>
<line x1="255.9" y1="322.85" x2="257.6" y2="322.85" stroke="#333" stroke-width="0.8"/>
<line x1="255.9" y1="351.10" x2="258.6" y2="351.10" stroke="#333" stroke-width="0.9"/>
<text x="252.0" y="352.8" font-size="7.6" text-anchor="end" fill="#222">10<tspan font-size="5.02" dy="-3.80">1</tspan></text>
<text x="252.0" y="324.2" font-size="7.6" text-anchor="end" fill="#222">10<tspan font-size="5.02" dy="-3.80">2</tspan></text>
<text x="252.0" y="294.59999999999997" font-size="7.6" text-anchor="end" fill="#222">10<tspan font-size="5.02" dy="-3.80">3</tspan></text>
<text x="252.0" y="265.0" font-size="7.6" text-anchor="end" fill="#222">10<tspan font-size="5.02" dy="-3.80">4</tspan></text>
<text x="252.0" y="235.39999999999998" font-size="7.6" text-anchor="end" fill="#222">10<tspan font-size="5.02" dy="-3.80">5</tspan></text>
<text x="252.0" y="207.39999999999998" font-size="7.6" text-anchor="end" fill="#222">10<tspan font-size="5.02" dy="-3.80">6</tspan></text>
<line x1="257.09" y1="351.1" x2="257.09" y2="349.3" stroke="#333" stroke-width="0.8"/>
<line x1="260.56" y1="351.1" x2="260.56" y2="349.3" stroke="#333" stroke-width="0.8"/>
<line x1="263.57" y1="351.1" x2="263.57" y2="349.3" stroke="#333" stroke-width="0.8"/>
<line x1="266.23" y1="351.1" x2="266.23" y2="349.3" stroke="#333" stroke-width="0.8"/>
<line x1="268.60" y1="351.1" x2="268.60" y2="348.20000000000005" stroke="#333" stroke-width="0.9"/>
<line x1="284.22" y1="351.1" x2="284.22" y2="349.3" stroke="#333" stroke-width="0.8"/>
<line x1="293.36" y1="351.1" x2="293.36" y2="349.3" stroke="#333" stroke-width="0.8"/>
<line x1="299.85" y1="351.1" x2="299.85" y2="349.3" stroke="#333" stroke-width="0.8"/>
<line x1="304.88" y1="351.1" x2="304.88" y2="349.3" stroke="#333" stroke-width="0.8"/>
<line x1="308.99" y1="351.1" x2="308.99" y2="349.3" stroke="#333" stroke-width="0.8"/>
<line x1="312.46" y1="351.1" x2="312.46" y2="349.3" stroke="#333" stroke-width="0.8"/>
<line x1="315.47" y1="351.1" x2="315.47" y2="349.3" stroke="#333" stroke-width="0.8"/>
<line x1="318.13" y1="351.1" x2="318.13" y2="349.3" stroke="#333" stroke-width="0.8"/>
<line x1="320.50" y1="351.1" x2="320.50" y2="348.20000000000005" stroke="#333" stroke-width="0.9"/>
<line x1="336.12" y1="351.1" x2="336.12" y2="349.3" stroke="#333" stroke-width="0.8"/>
<line x1="345.26" y1="351.1" x2="345.26" y2="349.3" stroke="#333" stroke-width="0.8"/>
<line x1="351.75" y1="351.1" x2="351.75" y2="349.3" stroke="#333" stroke-width="0.8"/>
<line x1="356.78" y1="351.1" x2="356.78" y2="349.3" stroke="#333" stroke-width="0.8"/>
<line x1="360.89" y1="351.1" x2="360.89" y2="349.3" stroke="#333" stroke-width="0.8"/>
<line x1="364.36" y1="351.1" x2="364.36" y2="349.3" stroke="#333" stroke-width="0.8"/>
<line x1="367.37" y1="351.1" x2="367.37" y2="349.3" stroke="#333" stroke-width="0.8"/>
<line x1="370.03" y1="351.1" x2="370.03" y2="349.3" stroke="#333" stroke-width="0.8"/>
<line x1="372.40" y1="351.1" x2="372.40" y2="348.20000000000005" stroke="#333" stroke-width="0.9"/>
<line x1="388.02" y1="351.1" x2="388.02" y2="349.3" stroke="#333" stroke-width="0.8"/>
<line x1="397.16" y1="351.1" x2="397.16" y2="349.3" stroke="#333" stroke-width="0.8"/>
<line x1="403.65" y1="351.1" x2="403.65" y2="349.3" stroke="#333" stroke-width="0.8"/>
<line x1="408.68" y1="351.1" x2="408.68" y2="349.3" stroke="#333" stroke-width="0.8"/>
<line x1="412.79" y1="351.1" x2="412.79" y2="349.3" stroke="#333" stroke-width="0.8"/>
<line x1="416.26" y1="351.1" x2="416.26" y2="349.3" stroke="#333" stroke-width="0.8"/>
<line x1="419.27" y1="351.1" x2="419.27" y2="349.3" stroke="#333" stroke-width="0.8"/>
<line x1="421.93" y1="351.1" x2="421.93" y2="349.3" stroke="#333" stroke-width="0.8"/>
<line x1="424.30" y1="351.1" x2="424.30" y2="348.20000000000005" stroke="#333" stroke-width="0.9"/>
<text x="269.6" y="363.40000000000003" font-size="7.6" text-anchor="middle" fill="#222">10<tspan font-size="5.02" dy="-3.80">0</tspan></text>
<text x="321.5" y="363.40000000000003" font-size="7.6" text-anchor="middle" fill="#222">10<tspan font-size="5.02" dy="-3.80">1</tspan></text>
<text x="373.40000000000003" y="363.40000000000003" font-size="7.6" text-anchor="middle" fill="#222">10<tspan font-size="5.02" dy="-3.80">2</tspan></text>
<text x="425.3" y="363.40000000000003" font-size="7.6" text-anchor="middle" fill="#222">10<tspan font-size="5.02" dy="-3.80">3</tspan></text>
<line x1="268.60" y1="291.5" x2="424.30" y2="291.5" stroke="#444" stroke-width="0.8"/>
<rect x="327.99" y="289.85" width="97.96" height="3.3" fill="#000"/>
<rect x="266.95" y="289.85" width="3.3" height="3.3" fill="#000"/>
<rect x="291.71" y="289.85" width="3.3" height="3.3" fill="#000"/>
<rect x="303.23" y="289.85" width="3.3" height="3.3" fill="#000"/>
<rect x="310.81" y="289.85" width="3.3" height="3.3" fill="#000"/>
<rect x="316.48" y="289.85" width="3.3" height="3.3" fill="#000"/>
<rect x="321.00" y="289.85" width="3.3" height="3.3" fill="#000"/>
<rect x="324.76" y="289.85" width="3.3" height="3.3" fill="#000"/>
<text x="396.2" y="214.6" font-size="9.2" text-anchor="start" fill="#1a1a1a" font-weight="normal" font-style="normal" textLength="37.8" lengthAdjust="spacingAndGlyphs" >Cell no. 2</text>
<text x="310.2" y="259.7" font-size="9.4" text-anchor="start" fill="#2a8ad0" font-weight="normal" font-style="normal" textLength="74.0" lengthAdjust="spacingAndGlyphs" >Drift measurement</text>
<text x="310.2" y="269.5" font-size="9.4" text-anchor="start" fill="#2a8ad0" font-weight="normal" font-style="normal" textLength="85.0" lengthAdjust="spacingAndGlyphs" >after cycling, a-CrTe<tspan font-size="6.6" dy="2.6">3</tspan></text>
<text x="327.8" y="308.8" font-size="9.6" text-anchor="start" fill="#222" font-weight="normal" font-style="normal" textLength="43.4" lengthAdjust="spacingAndGlyphs" >|<tspan font-style="italic">v</tspan>| ≈ 0.001</text>
<text x="332.6" y="375.4" font-size="9.2" text-anchor="start" fill="#1a1a1a" font-weight="normal" font-style="normal" textLength="30.9" lengthAdjust="spacingAndGlyphs" >Time (s)</text>
<text x="234.9" y="274.9" font-size="8.4" text-anchor="middle" fill="#222" font-weight="normal" font-style="normal" textLength="56.3" lengthAdjust="spacingAndGlyphs" transform="rotate(-90 234.9 274.9)">Resistance (Ω)</text>
<rect x="499.4" y="203.1" width="184.10000000000002" height="148.20000000000002" fill="none" stroke="#555" stroke-width="0.9"/>
<line x1="499.4" y1="203.10" x2="502.09999999999997" y2="203.10" stroke="#333" stroke-width="0.9"/>
<line x1="499.4" y1="223.82" x2="501.09999999999997" y2="223.82" stroke="#333" stroke-width="0.8"/>
<line x1="499.4" y1="218.60" x2="501.09999999999997" y2="218.60" stroke="#333" stroke-width="0.8"/>
<line x1="499.4" y1="214.89" x2="501.09999999999997" y2="214.89" stroke="#333" stroke-width="0.8"/>
<line x1="499.4" y1="212.02" x2="501.09999999999997" y2="212.02" stroke="#333" stroke-width="0.8"/>
<line x1="499.4" y1="209.68" x2="501.09999999999997" y2="209.68" stroke="#333" stroke-width="0.8"/>
<line x1="499.4" y1="207.69" x2="501.09999999999997" y2="207.69" stroke="#333" stroke-width="0.8"/>
<line x1="499.4" y1="205.97" x2="501.09999999999997" y2="205.97" stroke="#333" stroke-width="0.8"/>
<line x1="499.4" y1="204.46" x2="501.09999999999997" y2="204.46" stroke="#333" stroke-width="0.8"/>
<line x1="499.4" y1="232.74" x2="502.09999999999997" y2="232.74" stroke="#333" stroke-width="0.9"/>
<line x1="499.4" y1="253.46" x2="501.09999999999997" y2="253.46" stroke="#333" stroke-width="0.8"/>
<line x1="499.4" y1="248.24" x2="501.09999999999997" y2="248.24" stroke="#333" stroke-width="0.8"/>
<line x1="499.4" y1="244.53" x2="501.09999999999997" y2="244.53" stroke="#333" stroke-width="0.8"/>
<line x1="499.4" y1="241.66" x2="501.09999999999997" y2="241.66" stroke="#333" stroke-width="0.8"/>
<line x1="499.4" y1="239.32" x2="501.09999999999997" y2="239.32" stroke="#333" stroke-width="0.8"/>
<line x1="499.4" y1="237.33" x2="501.09999999999997" y2="237.33" stroke="#333" stroke-width="0.8"/>
<line x1="499.4" y1="235.61" x2="501.09999999999997" y2="235.61" stroke="#333" stroke-width="0.8"/>
<line x1="499.4" y1="234.10" x2="501.09999999999997" y2="234.10" stroke="#333" stroke-width="0.8"/>
<line x1="499.4" y1="262.38" x2="502.09999999999997" y2="262.38" stroke="#333" stroke-width="0.9"/>
<line x1="499.4" y1="283.10" x2="501.09999999999997" y2="283.10" stroke="#333" stroke-width="0.8"/>
<line x1="499.4" y1="277.88" x2="501.09999999999997" y2="277.88" stroke="#333" stroke-width="0.8"/>
<line x1="499.4" y1="274.17" x2="501.09999999999997" y2="274.17" stroke="#333" stroke-width="0.8"/>
<line x1="499.4" y1="271.30" x2="501.09999999999997" y2="271.30" stroke="#333" stroke-width="0.8"/>
<line x1="499.4" y1="268.96" x2="501.09999999999997" y2="268.96" stroke="#333" stroke-width="0.8"/>
<line x1="499.4" y1="266.97" x2="501.09999999999997" y2="266.97" stroke="#333" stroke-width="0.8"/>
<line x1="499.4" y1="265.25" x2="501.09999999999997" y2="265.25" stroke="#333" stroke-width="0.8"/>
<line x1="499.4" y1="263.74" x2="501.09999999999997" y2="263.74" stroke="#333" stroke-width="0.8"/>
<line x1="499.4" y1="292.02" x2="502.09999999999997" y2="292.02" stroke="#333" stroke-width="0.9"/>
<line x1="499.4" y1="312.74" x2="501.09999999999997" y2="312.74" stroke="#333" stroke-width="0.8"/>
<line x1="499.4" y1="307.52" x2="501.09999999999997" y2="307.52" stroke="#333" stroke-width="0.8"/>
<line x1="499.4" y1="303.81" x2="501.09999999999997" y2="303.81" stroke="#333" stroke-width="0.8"/>
<line x1="499.4" y1="300.94" x2="501.09999999999997" y2="300.94" stroke="#333" stroke-width="0.8"/>
<line x1="499.4" y1="298.60" x2="501.09999999999997" y2="298.60" stroke="#333" stroke-width="0.8"/>
<line x1="499.4" y1="296.61" x2="501.09999999999997" y2="296.61" stroke="#333" stroke-width="0.8"/>
<line x1="499.4" y1="294.89" x2="501.09999999999997" y2="294.89" stroke="#333" stroke-width="0.8"/>
<line x1="499.4" y1="293.38" x2="501.09999999999997" y2="293.38" stroke="#333" stroke-width="0.8"/>
<line x1="499.4" y1="321.66" x2="502.09999999999997" y2="321.66" stroke="#333" stroke-width="0.9"/>
<line x1="499.4" y1="342.38" x2="501.09999999999997" y2="342.38" stroke="#333" stroke-width="0.8"/>
<line x1="499.4" y1="337.16" x2="501.09999999999997" y2="337.16" stroke="#333" stroke-width="0.8"/>
<line x1="499.4" y1="333.45" x2="501.09999999999997" y2="333.45" stroke="#333" stroke-width="0.8"/>
<line x1="499.4" y1="330.58" x2="501.09999999999997" y2="330.58" stroke="#333" stroke-width="0.8"/>
<line x1="499.4" y1="328.24" x2="501.09999999999997" y2="328.24" stroke="#333" stroke-width="0.8"/>
<line x1="499.4" y1="326.25" x2="501.09999999999997" y2="326.25" stroke="#333" stroke-width="0.8"/>
<line x1="499.4" y1="324.53" x2="501.09999999999997" y2="324.53" stroke="#333" stroke-width="0.8"/>
<line x1="499.4" y1="323.02" x2="501.09999999999997" y2="323.02" stroke="#333" stroke-width="0.8"/>
<line x1="499.4" y1="351.30" x2="502.09999999999997" y2="351.30" stroke="#333" stroke-width="0.9"/>
<text x="495.5" y="353.0" font-size="7.6" text-anchor="end" fill="#222">10<tspan font-size="5.02" dy="-3.80">1</tspan></text>
<text x="495.5" y="324.36" font-size="7.6" text-anchor="end" fill="#222">10<tspan font-size="5.02" dy="-3.80">2</tspan></text>
<text x="495.5" y="294.71999999999997" font-size="7.6" text-anchor="end" fill="#222">10<tspan font-size="5.02" dy="-3.80">3</tspan></text>
<text x="495.5" y="265.08" font-size="7.6" text-anchor="end" fill="#222">10<tspan font-size="5.02" dy="-3.80">4</tspan></text>
<text x="495.5" y="235.44" font-size="7.6" text-anchor="end" fill="#222">10<tspan font-size="5.02" dy="-3.80">5</tspan></text>
<text x="495.5" y="207.39999999999998" font-size="7.6" text-anchor="end" fill="#222">10<tspan font-size="5.02" dy="-3.80">6</tspan></text>
<line x1="499.96" y1="351.3" x2="499.96" y2="349.5" stroke="#333" stroke-width="0.8"/>
<line x1="503.45" y1="351.3" x2="503.45" y2="349.5" stroke="#333" stroke-width="0.8"/>
<line x1="506.46" y1="351.3" x2="506.46" y2="349.5" stroke="#333" stroke-width="0.8"/>
<line x1="509.12" y1="351.3" x2="509.12" y2="349.5" stroke="#333" stroke-width="0.8"/>
<line x1="511.50" y1="351.3" x2="511.50" y2="348.40000000000003" stroke="#333" stroke-width="0.9"/>
<line x1="527.15" y1="351.3" x2="527.15" y2="349.5" stroke="#333" stroke-width="0.8"/>
<line x1="536.31" y1="351.3" x2="536.31" y2="349.5" stroke="#333" stroke-width="0.8"/>
<line x1="542.81" y1="351.3" x2="542.81" y2="349.5" stroke="#333" stroke-width="0.8"/>
<line x1="547.85" y1="351.3" x2="547.85" y2="349.5" stroke="#333" stroke-width="0.8"/>
<line x1="551.96" y1="351.3" x2="551.96" y2="349.5" stroke="#333" stroke-width="0.8"/>
<line x1="555.45" y1="351.3" x2="555.45" y2="349.5" stroke="#333" stroke-width="0.8"/>
<line x1="558.46" y1="351.3" x2="558.46" y2="349.5" stroke="#333" stroke-width="0.8"/>
<line x1="561.12" y1="351.3" x2="561.12" y2="349.5" stroke="#333" stroke-width="0.8"/>
<line x1="563.50" y1="351.3" x2="563.50" y2="348.40000000000003" stroke="#333" stroke-width="0.9"/>
<line x1="579.15" y1="351.3" x2="579.15" y2="349.5" stroke="#333" stroke-width="0.8"/>
<line x1="588.31" y1="351.3" x2="588.31" y2="349.5" stroke="#333" stroke-width="0.8"/>
<line x1="594.81" y1="351.3" x2="594.81" y2="349.5" stroke="#333" stroke-width="0.8"/>
<line x1="599.85" y1="351.3" x2="599.85" y2="349.5" stroke="#333" stroke-width="0.8"/>
<line x1="603.96" y1="351.3" x2="603.96" y2="349.5" stroke="#333" stroke-width="0.8"/>
<line x1="607.45" y1="351.3" x2="607.45" y2="349.5" stroke="#333" stroke-width="0.8"/>
<line x1="610.46" y1="351.3" x2="610.46" y2="349.5" stroke="#333" stroke-width="0.8"/>
<line x1="613.12" y1="351.3" x2="613.12" y2="349.5" stroke="#333" stroke-width="0.8"/>
<line x1="615.50" y1="351.3" x2="615.50" y2="348.40000000000003" stroke="#333" stroke-width="0.9"/>
<line x1="631.15" y1="351.3" x2="631.15" y2="349.5" stroke="#333" stroke-width="0.8"/>
<line x1="640.31" y1="351.3" x2="640.31" y2="349.5" stroke="#333" stroke-width="0.8"/>
<line x1="646.81" y1="351.3" x2="646.81" y2="349.5" stroke="#333" stroke-width="0.8"/>
<line x1="651.85" y1="351.3" x2="651.85" y2="349.5" stroke="#333" stroke-width="0.8"/>
<line x1="655.96" y1="351.3" x2="655.96" y2="349.5" stroke="#333" stroke-width="0.8"/>
<line x1="659.45" y1="351.3" x2="659.45" y2="349.5" stroke="#333" stroke-width="0.8"/>
<line x1="662.46" y1="351.3" x2="662.46" y2="349.5" stroke="#333" stroke-width="0.8"/>
<line x1="665.12" y1="351.3" x2="665.12" y2="349.5" stroke="#333" stroke-width="0.8"/>
<line x1="667.50" y1="351.3" x2="667.50" y2="348.40000000000003" stroke="#333" stroke-width="0.9"/>
<line x1="683.15" y1="351.3" x2="683.15" y2="349.5" stroke="#333" stroke-width="0.8"/>
<text x="512.5" y="363.6" font-size="7.6" text-anchor="middle" fill="#222">10<tspan font-size="5.02" dy="-3.80">0</tspan></text>
<text x="564.5" y="363.6" font-size="7.6" text-anchor="middle" fill="#222">10<tspan font-size="5.02" dy="-3.80">1</tspan></text>
<text x="616.5" y="363.6" font-size="7.6" text-anchor="middle" fill="#222">10<tspan font-size="5.02" dy="-3.80">2</tspan></text>
<text x="668.5" y="363.6" font-size="7.6" text-anchor="middle" fill="#222">10<tspan font-size="5.02" dy="-3.80">3</tspan></text>
<rect x="571.01" y="247.35" width="98.14" height="3.3" fill="#000"/>
<rect x="509.85" y="247.35" width="3.3" height="3.3" fill="#000"/>
<rect x="534.66" y="247.35" width="3.3" height="3.3" fill="#000"/>
<rect x="546.20" y="247.35" width="3.3" height="3.3" fill="#000"/>
<rect x="553.80" y="247.35" width="3.3" height="3.3" fill="#000"/>
<rect x="559.47" y="247.35" width="3.3" height="3.3" fill="#000"/>
<rect x="564.00" y="247.35" width="3.3" height="3.3" fill="#000"/>
<rect x="567.78" y="247.35" width="3.3" height="3.3" fill="#000"/>
<text x="639.6" y="214.6" font-size="9.2" text-anchor="start" fill="#1a1a1a" font-weight="normal" font-style="normal" textLength="37.6" lengthAdjust="spacingAndGlyphs" >Cell no. 2</text>
<text x="568.4" y="235.2" font-size="9.6" text-anchor="start" fill="#222" font-weight="normal" font-style="normal" textLength="43.3" lengthAdjust="spacingAndGlyphs" >|<tspan font-style="italic">v</tspan>| ≈ 0.001</text>
<text x="563.2" y="286.4" font-size="9.4" text-anchor="start" fill="#2a8ad0" font-weight="normal" font-style="normal" textLength="74.0" lengthAdjust="spacingAndGlyphs" >Drift measurement</text>
<text x="557.5" y="296.4" font-size="9.4" text-anchor="start" fill="#2a8ad0" font-weight="normal" font-style="normal" textLength="85.0" lengthAdjust="spacingAndGlyphs" >after cycling, c-CrTe<tspan font-size="6.6" dy="2.6">3</tspan></text>
<text x="575.5" y="375.6" font-size="9.2" text-anchor="start" fill="#1a1a1a" font-weight="normal" font-style="normal" textLength="31.2" lengthAdjust="spacingAndGlyphs" >Time (s)</text>
<text x="477.0" y="277.5" font-size="8.4" text-anchor="middle" fill="#222" font-weight="normal" font-style="normal" textLength="56.3" lengthAdjust="spacingAndGlyphs" transform="rotate(-90 477 277.5)">Resistance (Ω)</text>
<defs><clipPath id="temclip"><rect x="494.3" y="8" width="189.5" height="156.5"/></clipPath><filter id="bl2" x="-10%" y="-10%" width="120%" height="120%"><feGaussianBlur stdDeviation="1.6"/></filter><filter id="bl1"><feGaussianBlur stdDeviation="0.8"/></filter><filter id="bl05"><feGaussianBlur stdDeviation="0.4"/></filter><filter id="noise" x="0" y="0" width="100%" height="100%" color-interpolation-filters="sRGB"><feTurbulence type="fractalNoise" baseFrequency="0.14" numOctaves="2" seed="3"/><feColorMatrix type="matrix" values="1.6 0 0 0 -0.3  1.6 0 0 0 -0.3  1.6 0 0 0 -0.3  0 0 0 0 1"/></filter><filter id="noise2" x="0" y="0" width="100%" height="100%" color-interpolation-filters="sRGB"><feTurbulence type="fractalNoise" baseFrequency="0.16 0.04" numOctaves="2" seed="7"/><feColorMatrix type="matrix" values="1.6 0 0 0 -0.3  1.6 0 0 0 -0.3  1.6 0 0 0 -0.3  0 0 0 0 1"/></filter><clipPath id="teclip"><path d="M552,27 Q595,17 637,25 L648,45 L647,68 L632,77 Q590,79 560,82 L543,85 L545,60 Z"/></clipPath><filter id="fnoise" x="0" y="0" width="100%" height="100%" color-interpolation-filters="sRGB"><feTurbulence type="fractalNoise" baseFrequency="0.9" numOctaves="1" seed="11"/><feColorMatrix type="matrix" values="1.6 0 0 0 -0.3  1.6 0 0 0 -0.3  1.6 0 0 0 -0.3  0 0 0 0 1"/></filter><radialGradient id="fft" cx="0.5" cy="0.5" r="0.7"><stop offset="0" stop-color="#5c5c5c"/><stop offset="0.07" stop-color="#4c4c4c"/><stop offset="0.19" stop-color="#4a4a4a"/><stop offset="0.25" stop-color="#6e6e6e"/><stop offset="0.31" stop-color="#484848"/><stop offset="0.5" stop-color="#353535"/><stop offset="0.75" stop-color="#222"/><stop offset="1" stop-color="#151515"/></radialGradient><linearGradient id="bandg" x1="0" x2="1" y1="0" y2="0"><stop offset="0" stop-color="#a9a9a9"/><stop offset="0.5" stop-color="#a0a0a0"/><stop offset="1" stop-color="#979797"/></linearGradient><radialGradient id="glow" cx="0.5" cy="0.5" r="0.5"><stop offset="0" stop-color="#d0d0d0" stop-opacity="0.75"/><stop offset="1" stop-color="#c8c8c8" stop-opacity="0"/></radialGradient></defs>
<g clip-path="url(#temclip)">
<rect x="494.3" y="8" width="189.5" height="156.5" fill="#5a5a5a"/>
<g filter="url(#bl2)">
<path d="M544,4 L636,4 L636,24 Q590,21 546,26 Z" fill="#6a6a6a"/>
<path d="M664,12 L681,12 L681,40 L664,40 Z" fill="#343434"/>
<path d="M526,36 L548,24 L540,62 L535,88 L531,88 Z" fill="#4c4c4c"/>
<path d="M547,25 Q595,19 644,24 L650,40 L646,60 L643,75 Q620,75.2 600,75.4 Q575,75.5 562,77 Q545,80.5 535,87 L540,62 Z" fill="#414141"/>
<ellipse cx="646" cy="34" rx="11" ry="9" fill="#6a6a6a"/>
<path d="M490,52 Q494,40 506,38.5 Q521,38 527,45 Q532,54 533,70 L534,92 L490,92 Z" fill="#a9a9a9"/>
<path d="M690,40 L663,40 Q655,41 652,50 L646,68 L643,92 L690,92 Z" fill="#a6a6a6"/>
<path d="M508,88 Q520,87 535,87 Q548,80 562,77.5 Q580,76 600,76 Q630,75.8 643,75.5 L660,88 L660,112 Q630,118 600,118.5 Q560,119 525,117 L508,116 Z" fill="url(#bandg)"/>
<path d="M490,115 L522,117 Q560,120 600,119.5 Q630,119 700,112 L700,170 L490,170 Z" fill="#4a4a4a"/>
<ellipse cx="590" cy="126" rx="22" ry="7" fill="#5e5e5e"/>
</g>
<mask id="nmask" maskUnits="userSpaceOnUse" x="490" y="4" width="200" height="165"><g filter="url(#bl2)"><path d="M490,4 L548,4 L548,28 L540,62 L536,86 L531,86 L530,50 Q522,38 506,37 Q496,38 490,46 Z" fill="#fff"/><path d="M636,4 L690,4 L690,40 L660,40 L648,44 L636,25 Z" fill="#fff"/><path d="M547,25 Q595,19 644,24 L650,40 L646,60 L643,75 Q620,75.2 600,75.4 Q575,75.5 562,77 Q545,80.5 535,87 L540,62 Z" fill="#fff"/></g></mask>
<mask id="nmask2" maskUnits="userSpaceOnUse" x="490" y="110" width="200" height="60"><g filter="url(#bl1)"><path d="M490,115 L522,117 Q560,120 600,119.5 Q630,119 640,117 L640,170 L490,170 Z" fill="#fff"/></g></mask>
<g style="mix-blend-mode:overlay">
<rect x="494.3" y="8" width="189.5" height="80" filter="url(#noise)" opacity="0.42" mask="url(#nmask)"/>
<rect x="494.3" y="110" width="137" height="55" filter="url(#noise2)" opacity="0.28" mask="url(#nmask2)"/>
</g>
<ellipse cx="617" cy="110" rx="20" ry="11" fill="url(#glow)"/>
<path d="M494.3,85.5 L515,84.5 L516.5,114 L494.3,114.5 Z" fill="#d2d2d2" filter="url(#bl1)"/>
<path d="M665,89.2 L684,89.2 L684,110 L658.8,110.4 Z" fill="#c8c8c8" filter="url(#bl1)"/>
<path d="M522,116.5 Q560,119.2 600,118.3" stroke="#dedede" stroke-width="1.4" fill="none" filter="url(#bl1)"/>
<path d="M552,34.5 L549.5,47 L545,66" stroke="#f2f2f2" stroke-width="1.4" fill="none" filter="url(#bl05)"/>
</g>
<rect x="578.8" y="91.1" width="20.4" height="19.9" fill="none" stroke="#c41616" stroke-width="1.9"/>
<rect x="631.5" y="112.3" width="51.5" height="51" fill="url(#fft)"/>
<rect x="631.5" y="112.3" width="51.5" height="51" filter="url(#fnoise)" opacity="0.3" style="mix-blend-mode:overlay"/>
<rect x="631.5" y="112.3" width="51.5" height="51" fill="none" stroke="#b01818" stroke-width="1.8"/>
<text x="636.6" y="22.8" font-size="8.8" text-anchor="start" fill="#f0f0f0" font-weight="normal" font-style="normal" textLength="35.4" lengthAdjust="spacingAndGlyphs" >Cell no. 1</text>
<text x="588.9" y="56.0" font-size="9.2" text-anchor="middle" fill="#f0f0f0" font-weight="normal" font-style="normal" >Top</text>
<text x="588.7" y="65.9" font-size="9.2" text-anchor="middle" fill="#f0f0f0" font-weight="normal" font-style="normal" textLength="37.8" lengthAdjust="spacingAndGlyphs" >electrode</text>
<text x="603.9" y="103.1" font-size="9.3" text-anchor="start" fill="#f0f0f0" font-weight="normal" font-style="normal" >CrTe<tspan font-size="6.4" dy="2.3">3</tspan></text>
<text x="588.4" y="138.6" font-size="9.2" text-anchor="middle" fill="#f0f0f0" font-weight="normal" font-style="normal" >Bottom</text>
<text x="588.4" y="148.5" font-size="9.2" text-anchor="middle" fill="#f0f0f0" font-weight="normal" font-style="normal" textLength="37.5" lengthAdjust="spacingAndGlyphs" >electrode</text>
<text x="508.7" y="146.6" font-size="8.6" text-anchor="start" fill="#f0f0f0" font-weight="normal" font-style="normal" textLength="30.3" lengthAdjust="spacingAndGlyphs" >100 nm</text>
<rect x="499.3" y="152.2" width="48.7" height="3" fill="#f4f4f4"/>
<text x="469.2" y="69.3" font-size="8.8" text-anchor="middle" fill="#222" font-weight="normal" font-style="normal" textLength="33.4" lengthAdjust="spacingAndGlyphs" >Focused</text>
<text x="469.2" y="79.3" font-size="8.8" text-anchor="middle" fill="#222" font-weight="normal" font-style="normal" >ion</text>
<text x="469.2" y="89.3" font-size="8.8" text-anchor="middle" fill="#222" font-weight="normal" font-style="normal" >beam</text>
<line x1="455.6" y1="94.6" x2="479" y2="94.6" stroke="#c8272d" stroke-width="1.1"/>
<polygon points="483,94.6 478,92.4 478,96.8" fill="#c8272d"/>
<text x="468" y="107.5" font-size="8.8" text-anchor="middle" fill="#222" font-weight="normal" font-style="normal" >TEM</text>
</svg></body></html>
